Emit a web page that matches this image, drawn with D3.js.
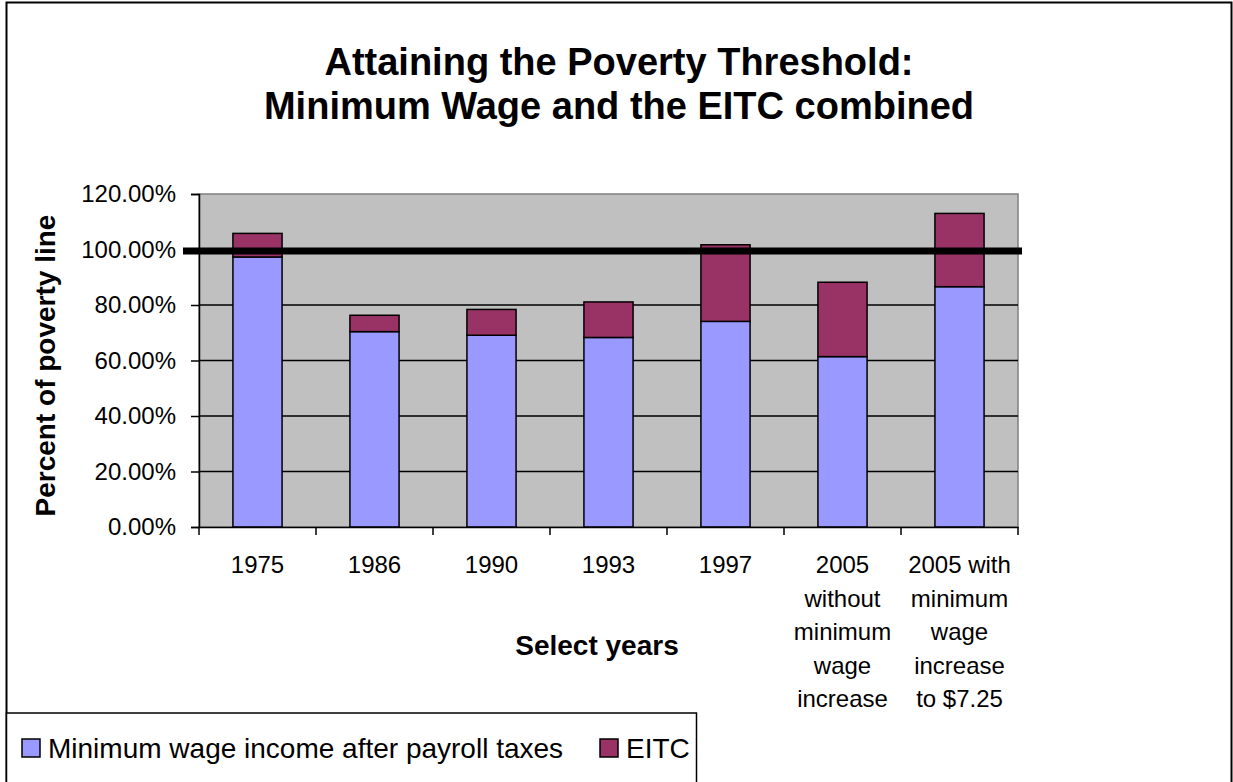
<!DOCTYPE html>
<html>
<head>
<meta charset="utf-8">
<script src="https://cdn.jsdelivr.net/npm/d3@7"></script>
<style>
    body { margin: 0; background: #fff; }
    text { font-family: Arial, "Liberation Sans", sans-serif; fill: #000; }
</style>
</head>
<body>
<div id="chart"></div>
<script>
// Chart values (percent of poverty line)
const categories = ['1975', '1986', '1990', '1993', '1997', '2005 without', '2005 with'];
const tickLabels = [
    ['1975'],
    ['1986'],
    ['1990'],
    ['1993'],
    ['1997'],
    ['2005', 'without', 'minimum', 'wage', 'increase'],
    ['2005 with', 'minimum', 'wage', 'increase', 'to $7.25']
];
const wageValues = [97.3, 70.4, 69.1, 68.3, 74.1, 61.4, 86.6];
const eitcValues = [8.5, 5.9, 9.3, 12.8, 27.6, 26.8, 26.4];
const seriesNames = ['Minimum wage income after payroll taxes', 'EITC'];
const seriesColors = ['#9999ff', '#993366'];
const yTicks = [0, 20, 40, 60, 80, 100, 120];
const povertyLine = [100];

const width = 1233;
const height = 782;
const plot = { left: 199, right: 1018, top: 194, bottom: 527 };

const svg = d3.select('#chart')
    .append('svg')
    .attr('width', width)
    .attr('height', height);

// Outer chart border
svg.append('rect')
    .attr('x', 6.5).attr('y', 2.5)
    .attr('width', 1225).attr('height', 790)
    .attr('fill', '#fff')
    .attr('stroke', '#000')
    .attr('stroke-width', 2);

// Title
svg.append('text')
    .attr('x', 619)
    .attr('text-anchor', 'middle')
    .attr('font-weight', 'bold')
    .attr('font-size', 38)
    .selectAll('tspan')
    .data(['Attaining the Poverty Threshold:', 'Minimum Wage and the EITC combined'])
    .join('tspan')
    .attr('x', 619)
    .attr('y', (d, i) => 75 + i * 44)
    .text(d => d);

const x = d3.scaleBand()
    .domain(categories)
    .range([plot.left, plot.right])
    .paddingInner(0.58)
    .paddingOuter(0.29);

const y = d3.scaleLinear()
    .domain([0, 120])
    .range([plot.bottom, plot.top]);

// Plot area
svg.append('rect')
    .attr('x', plot.left).attr('y', plot.top)
    .attr('width', plot.right - plot.left)
    .attr('height', plot.bottom - plot.top)
    .attr('fill', '#c0c0c0')
    .attr('stroke', '#808080')
    .attr('stroke-width', 1.5);

// Gridlines
svg.append('g')
    .selectAll('line')
    .data(yTicks.filter(d => d > 0 && d < 120))
    .join('line')
    .attr('x1', plot.left).attr('x2', plot.right)
    .attr('y1', d => y(d)).attr('y2', d => y(d))
    .attr('stroke', '#000')
    .attr('stroke-width', 1.5);

// Stacked bars
const stackData = categories.map((c, i) => ({ cat: c, wage: wageValues[i], eitc: eitcValues[i] }));
const stack = d3.stack().keys(['wage', 'eitc'])(stackData);

svg.append('g')
    .selectAll('g')
    .data(stack)
    .join('g')
    .attr('fill', (d, i) => seriesColors[i])
    .selectAll('rect')
    .data(d => d)
    .join('rect')
    .attr('x', d => x(d.data.cat))
    .attr('width', x.bandwidth())
    .attr('y', d => y(d[1]))
    .attr('height', d => y(d[0]) - y(d[1]))
    .attr('stroke', '#000')
    .attr('stroke-width', 1.5);

// Y axis
const yAxis = svg.append('g')
    .attr('transform', `translate(${plot.left},0)`)
    .call(d3.axisLeft(y).tickValues(yTicks).tickSize(8).tickPadding(15)
        .tickFormat(d => d.toFixed(2) + '%'));
yAxis.select('.domain').attr('stroke', '#000').attr('stroke-width', 1.5);
yAxis.selectAll('.tick line').attr('stroke', '#000').attr('stroke-width', 1.5);
yAxis.selectAll('.tick text')
    .attr('font-size', 24)
    .attr('font-family', 'Arial, "Liberation Sans", sans-serif')
    .attr('fill', '#000');

// X axis
const xAxis = svg.append('g')
    .attr('transform', `translate(0,${plot.bottom})`)
    .call(d3.axisBottom(x).tickSize(0).tickFormat(''));
xAxis.select('.domain').attr('stroke', '#000').attr('stroke-width', 1.5);

// Ticks between categories
const step = x.step();
svg.append('g')
    .selectAll('line')
    .data(d3.range(categories.length + 1))
    .join('line')
    .attr('x1', i => plot.left + i * step)
    .attr('x2', i => plot.left + i * step)
    .attr('y1', plot.bottom)
    .attr('y2', plot.bottom + 8)
    .attr('stroke', '#000')
    .attr('stroke-width', 1.5);

// Wrapped category labels
svg.append('g')
    .selectAll('text')
    .data(categories)
    .join('text')
    .attr('text-anchor', 'middle')
    .attr('font-size', 24)
    .each(function (c, i) {
        d3.select(this).selectAll('tspan')
            .data(tickLabels[i])
            .join('tspan')
            .attr('x', x(c) + x.bandwidth() / 2)
            .attr('y', (d, j) => 573 + j * 33.5)
            .text(d => d);
    });

// Poverty threshold line
svg.append('line')
    .datum(povertyLine[0])
    .attr('x1', 183).attr('x2', 1022)
    .attr('y1', d => y(d) + 1.5).attr('y2', d => y(d) + 1.5)
    .attr('stroke', '#000')
    .attr('stroke-width', 7);

// Axis titles
svg.append('text')
    .attr('transform', `translate(55,${(plot.top + plot.bottom) / 2 + 5}) rotate(-90)`)
    .attr('text-anchor', 'middle')
    .attr('font-weight', 'bold')
    .attr('font-size', 28)
    .text('Percent of poverty line');

svg.append('text')
    .attr('x', 597)
    .attr('y', 655)
    .attr('text-anchor', 'middle')
    .attr('font-weight', 'bold')
    .attr('font-size', 28)
    .text('Select years');

// Legend
const legend = svg.append('g');
legend.append('rect')
    .attr('x', 6.5).attr('y', 713)
    .attr('width', 690).attr('height', 80)
    .attr('fill', '#fff')
    .attr('stroke', '#000')
    .attr('stroke-width', 1.5);

const legendX = [22, 600];
const items = legend.selectAll('g.item')
    .data(seriesNames)
    .join('g')
    .attr('class', 'item')
    .attr('transform', (d, i) => `translate(${legendX[i]},739)`);
items.append('rect')
    .attr('width', 18).attr('height', 18)
    .attr('fill', (d, i) => seriesColors[i])
    .attr('stroke', '#000')
    .attr('stroke-width', 1.5);
items.append('text')
    .attr('x', 26)
    .attr('y', 19)
    .attr('font-size', 28)
    .text(d => d);
</script>
</body>
</html>
